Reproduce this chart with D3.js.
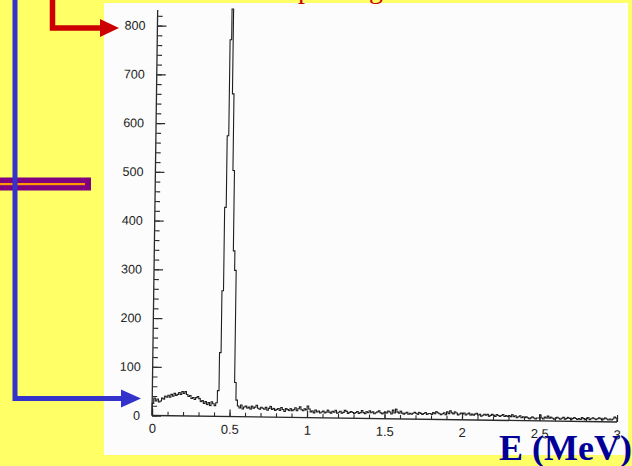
<!DOCTYPE html>
<html>
<head>
<meta charset="utf-8">
<script src="https://cdn.jsdelivr.net/npm/d3@7"></script>
<style>
  html, body { margin: 0; padding: 0; background: #ffff66; }
  svg { display: block; }
</style>
</head>
<body>
<svg id="chart" width="632" height="466"></svg>
<script>
// Energy spectrum, counts per 0.01 MeV bin from 0.00 to 2.99 MeV
const binWidth = 0.01;
const counts = [
  25, 36, 30, 34, 28, 30, 36, 34, 40, 38,
  42, 38, 44, 40, 46, 42, 44, 48, 44, 50,
  46, 50, 44, 40, 42, 36, 38, 34, 38, 40,
  36, 30, 32, 26, 30, 24, 28, 22, 30, 26,
  22, 28, 53, 131, 258, 429, 576, 773, 836, 662,
  505, 340, 300, 70, 34, 22, 18, 24, 16, 20,
  22, 18, 20, 16, 22, 18, 20, 24, 18, 16,
  20, 18, 16, 20, 14, 18, 22, 16, 18, 14,
  16, 18, 14, 20, 16, 12, 18, 16, 14, 18,
  14, 16, 20, 14, 18, 22, 16, 14, 18, 16,
  24, 18, 12, 14, 10, 16, 12, 14, 10, 12,
  14, 10, 12, 16, 12, 10, 14, 12, 16, 10,
  12, 14, 10, 12, 16, 14, 10, 12, 14, 12,
  10, 12, 14, 10, 12, 16, 12, 10, 14, 12,
  16, 12, 14, 10, 12, 14, 16, 12, 10, 12,
  14, 12, 16, 14, 10, 18, 12, 20, 14, 12,
  16, 12, 10, 12, 14, 10, 12, 10, 12, 14,
  12, 10, 14, 12, 10, 12, 14, 10, 12, 12,
  10, 14, 12, 16, 14, 12, 10, 12, 14, 10,
  16, 12, 18, 14, 12, 16, 14, 10, 12, 14,
  12, 14, 10, 12, 14, 10, 12, 10, 12, 14,
  10, 12, 8, 10, 12, 10, 12, 8, 10, 12,
  10, 8, 12, 10, 8, 10, 12, 8, 10, 8,
  10, 8, 12, 8, 10, 6, 8, 10, 6, 8,
  6, 8, 6, 4, 6, 8, 6, 4, 6, 6,
  12, 6, 4, 8, 6, 10, 6, 8, 6, 4,
  6, 8, 6, 4, 6, 8, 4, 6, 8, 6,
  4, 6, 8, 6, 4, 6, 4, 8, 6, 4,
  6, 8, 4, 6, 8, 6, 4, 6, 8, 6,
  4, 6, 8, 6, 4, 6, 4, 6, 10, 8
];

const xTicks = [0, 0.5, 1, 1.5, 2, 2.5, 3];
const xTickLabels = ["0", "0.5", "1", "1.5", "2", "2.5", "3"];
const yTicks = [0, 100, 200, 300, 400, 500, 600, 700, 800];
const yTickLabels = ["0", "100", "200", "300", "400", "500", "600", "700", "800"];
const xMinorTicks = d3.range(0, 31).map(i => i / 10);
const yMinorTicks = d3.range(0, 42).map(i => i * 20);

const svg = d3.select("#chart");

// slide background
svg.append("rect").attr("width", 632).attr("height", 466).attr("fill", "#ffff66");

// white plot sheet
svg.append("rect")
  .attr("x", 104).attr("y", 3).attr("width", 524).attr("height", 452)
  .attr("fill", "#fcfcfc");

// scales (local frame, origin at E=0, counts=0)
const x = d3.scaleLinear().domain([0, 3]).range([0, 465]);
const y = d3.scaleLinear().domain([0, 800]).range([0, -390]);

// the sheet sits slightly tilted
const g = svg.append("g")
  .attr("transform", "translate(152,415.5) rotate(0.8)");

const axisColor = "#2a2a2a";
const fontSans = "'Liberation Sans', Arial, sans-serif";

// y axis: minor and major ticks point inward
g.append("g")
  .call(d3.axisLeft(y).tickValues(yMinorTicks).tickSize(-5).tickFormat(""))
  .call(s => s.select(".domain").remove())
  .call(s => s.selectAll("line").attr("stroke", axisColor).attr("stroke-width", 1.1));

g.append("g")
  .call(d3.axisLeft(y).tickValues(yTicks).tickSize(-9).tickPadding(12)
    .tickFormat((d, i) => yTickLabels[i]))
  .call(s => s.select(".domain").remove())
  .call(s => s.selectAll("line").attr("stroke", axisColor).attr("stroke-width", 1.2))
  .call(s => s.selectAll("text").attr("fill", "#222")
    .style("font-family", fontSans).style("font-size", "12.5px"));

// x axis
g.append("g")
  .call(d3.axisBottom(x).tickValues(xMinorTicks).tickSize(-4).tickFormat(""))
  .call(s => s.select(".domain").remove())
  .call(s => s.selectAll("line").attr("stroke", axisColor).attr("stroke-width", 1.1));

g.append("g")
  .call(d3.axisBottom(x).tickValues(xTicks).tickSize(-7).tickPadding(8)
    .tickFormat((d, i) => xTickLabels[i]))
  .call(s => s.select(".domain").remove())
  .call(s => s.selectAll("line").attr("stroke", axisColor).attr("stroke-width", 1.2))
  .call(s => s.selectAll("text").attr("fill", "#222")
    .style("font-family", fontSans).style("font-size", "13px"));

// axis lines
g.append("line")
  .attr("x1", x(0)).attr("x2", x(0)).attr("y1", y(0)).attr("y2", y(832))
  .attr("stroke", axisColor).attr("stroke-width", 1.3);
g.append("line")
  .attr("x1", x(0)).attr("x2", x(3)).attr("y1", y(0)).attr("y2", y(0))
  .attr("stroke", axisColor).attr("stroke-width", 1.3);

// histogram outline
const pts = [[0, 0]];
counts.forEach((c, i) => {
  pts.push([i * binWidth, c]);
  pts.push([(i + 1) * binWidth, c]);
});
pts.push([counts.length * binWidth, 0]);

g.append("path")
  .attr("d", d3.line().x(d => x(d[0])).y(d => y(d[1]))(pts))
  .attr("fill", "none")
  .attr("stroke", "#1e1e1e")
  .attr("stroke-width", 1.1)
  .attr("stroke-linejoin", "miter");

// title line above (only the descenders remain on the slide)
const serif = "'Liberation Serif', 'Times New Roman', serif";
svg.append("text").attr("x", 298).attr("y", -2.5).text("p")
  .attr("fill", "#cc0000").style("font-family", serif).style("font-size", "28px");
svg.append("text").attr("x", 369).attr("y", -2.5).text("g")
  .attr("fill", "#cc0000").style("font-family", serif).style("font-size", "28px");

// red pointer to the top of the scale
svg.append("path")
  .attr("d", "M52.5,0 V28 H102")
  .attr("fill", "none").attr("stroke", "#cc0000").attr("stroke-width", 5.5)
  .attr("stroke-linejoin", "miter");
svg.append("path")
  .attr("d", "M100,19 L119,28 L100,37 Z").attr("fill", "#cc0000");

// purple divider bar with orange core
svg.append("rect").attr("x", 0).attr("y", 177.5).attr("width", 91).attr("height", 13)
  .attr("fill", "#800080");
svg.append("rect").attr("x", 0).attr("y", 183).attr("width", 85).attr("height", 2.2)
  .attr("fill", "#ff9900");

// blue pointer to the baseline
svg.append("path")
  .attr("d", "M15,0 V398.5 H123")
  .attr("fill", "none").attr("stroke", "#3333cc").attr("stroke-width", 5)
  .attr("stroke-linejoin", "miter");
svg.append("path")
  .attr("d", "M121,389.5 L141,398.5 L121,407.5 Z").attr("fill", "#3333cc");

// axis caption
svg.append("text").attr("x", 499).attr("y", 460).text("E (MeV)")
  .attr("fill", "#000099")
  .style("font-family", serif).style("font-size", "36px").style("font-weight", "bold");
</script>
</body>
</html>
